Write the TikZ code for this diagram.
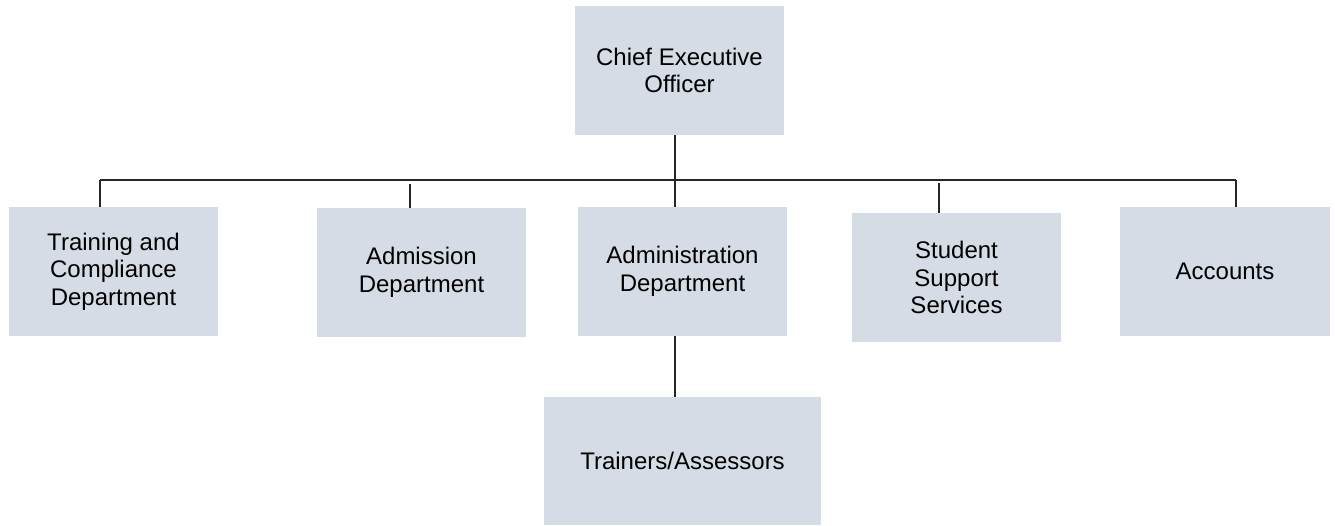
\documentclass[tikz,border=0pt]{standalone}
\usepackage{fontspec}
\setmainfont{Liberation Sans}
\begin{document}
\begin{tikzpicture}[x=1pt,y=-1pt,
  unit/.style={rectangle, fill=boxfill, draw=none, inner sep=0pt, outer sep=0pt,
    minimum width=209pt, minimum height=129pt, align=center,
    font=\fontsize{24}{27.6}\selectfont, text=black},
  link/.style={draw=linegray, line width=1.5pt}]
\definecolor{boxfill}{RGB}{214,220,229}
\definecolor{linegray}{RGB}{38,38,38}
\useasboundingbox (0,0) rectangle (1335,525);

% boxes
\node[unit] (ceo)     at (679.5,70.5)  {Chief Executive\\Officer};
\node[unit] (train)   at (113.5,271.5) {Training and\\Compliance\\Department};
\node[unit] (admis)   at (421.5,272.5) {Admission\\Department};
\node[unit] (admin)   at (682.5,271.5) {Administration\\Department};
\node[unit] (student) at (956.5,277.5) {Student\\Support\\Services};
\node[unit, minimum width=210pt] (acct) at (1225,271.5) {Accounts};
\node[unit, minimum width=277pt, minimum height=128pt] (trainers) at (682.5,461) {Trainers/Assessors};

% bus line and its drop points
\coordinate (b1) at (100,180);
\coordinate (b2) at (410,180);
\coordinate (b3) at (675,180);
\coordinate (b4) at (939,180);
\coordinate (b5) at (1236,180);
\coordinate (b2s) at (410,184);
\coordinate (b4s) at (939,183);

\draw[link] (b1) -- (b5);
\draw[link] (b3 |- ceo.south) -- (b3 |- admin.north);
\draw[link] (b1) -- (b1 |- train.north);
\draw[link] (b2s) -- (b2s |- admis.north);
\draw[link] (b4s) -- (b4s |- student.north);
\draw[link] (b5) -- (b5 |- acct.north);
\draw[link] (b3 |- admin.south) -- (b3 |- trainers.north);
\end{tikzpicture}
\end{document}
